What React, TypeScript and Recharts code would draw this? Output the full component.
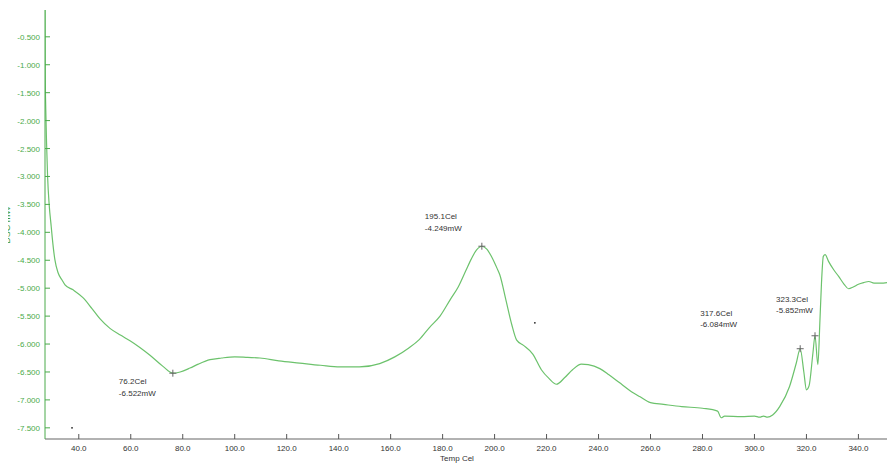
import React from 'react';
import { LineChart, Line, XAxis, YAxis, ReferenceDot, Label } from 'recharts';

const temps = [
  27.0, 27.05, 27.1, 27.3, 27.6, 28.0, 28.6, 29.4, 29.8, 30.8, 32.0, 33.5, 34.7, 37.8, 41.6, 45, 48.2, 52, 56,
  59.7, 63.5, 67.4, 72.4, 76.2, 79, 82.8, 86, 90.5, 95, 100, 105, 109.7, 117, 125, 133, 140.5, 148, 155.8,
  161.6, 167, 171, 175, 179, 183, 186, 189, 191, 193, 195.1, 197, 199, 201, 202, 204.3, 206.6, 208.5, 211,
  214.7, 218, 221, 223.8, 227, 230, 233.4, 236, 240.5, 244, 248, 252, 255.8, 260, 265, 272, 280, 285.8, 287.2,
  288.5, 295, 300, 302, 303.5, 305, 307, 309.7, 313.5, 316.1, 317.6, 319, 320, 321, 322.5, 323.3, 324.4, 325.2,
  325.8, 326.5, 327.2, 328.5, 330.5, 332.4, 334.5, 336.2, 338, 340, 342, 344, 346, 348.6, 351,
];
const dsc = [
  -0.02, -0.6, -1.2, -1.8, -2.4, -3.0, -3.5, -3.9, -4.1, -4.49, -4.72, -4.85, -4.94, -5.03, -5.17, -5.36, -5.55,
  -5.72, -5.84, -5.94, -6.06, -6.2, -6.4, -6.522, -6.5, -6.43, -6.36, -6.28, -6.25, -6.23, -6.24, -6.25, -6.3,
  -6.34, -6.38, -6.41, -6.41, -6.35, -6.23, -6.07, -5.92, -5.7, -5.5, -5.2, -4.98, -4.68, -4.48, -4.32, -4.249,
  -4.3, -4.45, -4.65, -4.76, -5.2, -5.65, -5.93, -6.02, -6.18, -6.46, -6.62, -6.72, -6.6, -6.46, -6.36, -6.37,
  -6.44, -6.55, -6.69, -6.83, -6.94, -7.05, -7.08, -7.12, -7.15, -7.2, -7.32, -7.29, -7.3, -7.29, -7.31, -7.29,
  -7.31, -7.27, -7.12, -6.76, -6.34, -6.084, -6.5, -6.82, -6.75, -6.16, -5.852, -6.37, -5.57, -4.9, -4.43, -4.4,
  -4.52, -4.67, -4.79, -4.93, -5.01, -4.98, -4.93, -4.9, -4.88, -4.91, -4.91, -4.9,
];

const xTicks = [40, 60, 80, 100, 120, 140, 160, 180, 200, 220, 240, 260, 280, 300, 320, 340];
const yTicks = [-0.5, -1.0, -1.5, -2.0, -2.5, -3.0, -3.5, -4.0, -4.5, -5.0, -5.5, -6.0, -6.5, -7.0, -7.5];

const peakTemps = [76.2, 195.1, 317.6, 323.3];
const peakValues = [-6.522, -4.249, -6.084, -5.852];
// text offsets (style only) relative to the marker
const peakLabelOffsets = [
  [-54, 8],
  [-57, -30],
  [-100, -36],
  [-39, -37],
];

const strayTemps = [37.4, 215.5];
const strayValues = [-7.5, -5.62];

const data = temps.map((t, i) => ({ t, v: dsc[i] }));

const GREEN = '#4aaa4a';
const LINE = '#6cc26c';
const FONT = '"Liberation Sans", Arial, sans-serif';

const YTick = (props: any) => {
  const { x, y, payload } = props;
  return (
    <g>
      <line x1={x} x2={x + 5} y1={y} y2={y} stroke={GREEN} strokeWidth={1} />
      <text x={x - 5} y={y} dy={3} textAnchor="end" fontSize={8} fontFamily={FONT} fill={GREEN}>
        {Number(payload.value).toFixed(3)}
      </text>
    </g>
  );
};

const XTick = (props: any) => {
  const { x, y, payload } = props;
  return (
    <g>
      <line x1={x} x2={x} y1={y - 5} y2={y} stroke="#555" strokeWidth={1} />
      <text x={x} y={y} dy={12} textAnchor="middle" fontSize={8} fontFamily={FONT} fill="#333">
        {Number(payload.value).toFixed(1)}
      </text>
    </g>
  );
};

const XLabel = (props: any) => {
  const vb = props.viewBox || { x: 45, y: 439, width: 842, height: 25 };
  const cx = vb.x + vb.width / 2 - 9;
  return (
    <text x={cx} y={vb.y + 22} textAnchor="middle" fontSize={8} fontFamily={FONT} fill="#333">
      Temp Cel
    </text>
  );
};

const makePeakShape = (i: number) => (props: any) => {
  const { cx, cy } = props;
  const [dx, dy] = peakLabelOffsets[i];
  return (
    <g>
      <line x1={cx - 3.5} x2={cx + 3.5} y1={cy} y2={cy} stroke="#666" strokeWidth={1} />
      <line x1={cx} x2={cx} y1={cy - 3.5} y2={cy + 3.5} stroke="#666" strokeWidth={1} />
      <text x={cx + dx} y={cy + dy} dy={3} fontSize={8} fontFamily={FONT} fill="#333">
        {peakTemps[i].toFixed(1)}Cel
      </text>
      <text x={cx + dx} y={cy + dy + 11.5} dy={3} fontSize={8} fontFamily={FONT} fill="#333">
        {peakValues[i].toFixed(3)}mW
      </text>
    </g>
  );
};

export default function App() {
  return (
    <div style={{ marginLeft: -8, marginTop: -8, width: 895, height: 464, position: 'relative' }}>
      <LineChart width={895} height={464} data={data} margin={{ top: 10, right: 8, bottom: 0, left: 0 }}>
        <XAxis
          xAxisId="top"
          orientation="top"
          type="number"
          dataKey="t"
          domain={[27, 351]}
          height={0}
          tick={false}
          tickLine={false}
          axisLine={{ stroke: '#999', strokeWidth: 1.5 }}
        />
        <YAxis
          yAxisId="right"
          orientation="right"
          type="number"
          domain={[-7.7, -0.02]}
          width={0}
          tick={false}
          tickLine={false}
          axisLine={{ stroke: '#888', strokeWidth: 1.2 }}
        />
        <XAxis
          type="number"
          dataKey="t"
          domain={[27, 351]}
          ticks={xTicks}
          allowDataOverflow
          height={25}
          tickSize={0}
          tickMargin={0}
          tickLine={false}
          tick={<XTick />}
          axisLine={{ stroke: '#999', strokeWidth: 1.5 }}
          interval={0}
        >
          <Label content={<XLabel />} />
        </XAxis>
        <YAxis
          type="number"
          domain={[-7.7, -0.02]}
          ticks={yTicks}
          allowDataOverflow
          width={45}
          tickSize={0}
          tickMargin={0}
          tickLine={false}
          tick={<YTick />}
          axisLine={{ stroke: GREEN, strokeWidth: 1 }}
          interval={0}
        />
        <Line
          type="monotone"
          dataKey="v"
          stroke={LINE}
          strokeWidth={1.2}
          dot={false}
          activeDot={false}
          isAnimationActive={false}
        />
        {strayTemps.map((t, i) => (
          <ReferenceDot key={'s' + i} x={t} y={strayValues[i]} r={0.9} fill="#222" stroke="none" />
        ))}
        {peakTemps.map((t, i) => (
          <ReferenceDot key={'p' + i} x={t} y={peakValues[i]} r={3} shape={makePeakShape(i)} />
        ))}
      </LineChart>
      <div
        style={{
          position: 'absolute',
          left: 7,
          top: 225,
          transform: 'translate(-50%, -50%) rotate(-90deg)',
          fontFamily: FONT,
          fontSize: 9,
          color: '#3a9a3a',
          whiteSpace: 'nowrap',
          lineHeight: '10px',
        }}
      >
        DSC mW
      </div>
    </div>
  );
}
